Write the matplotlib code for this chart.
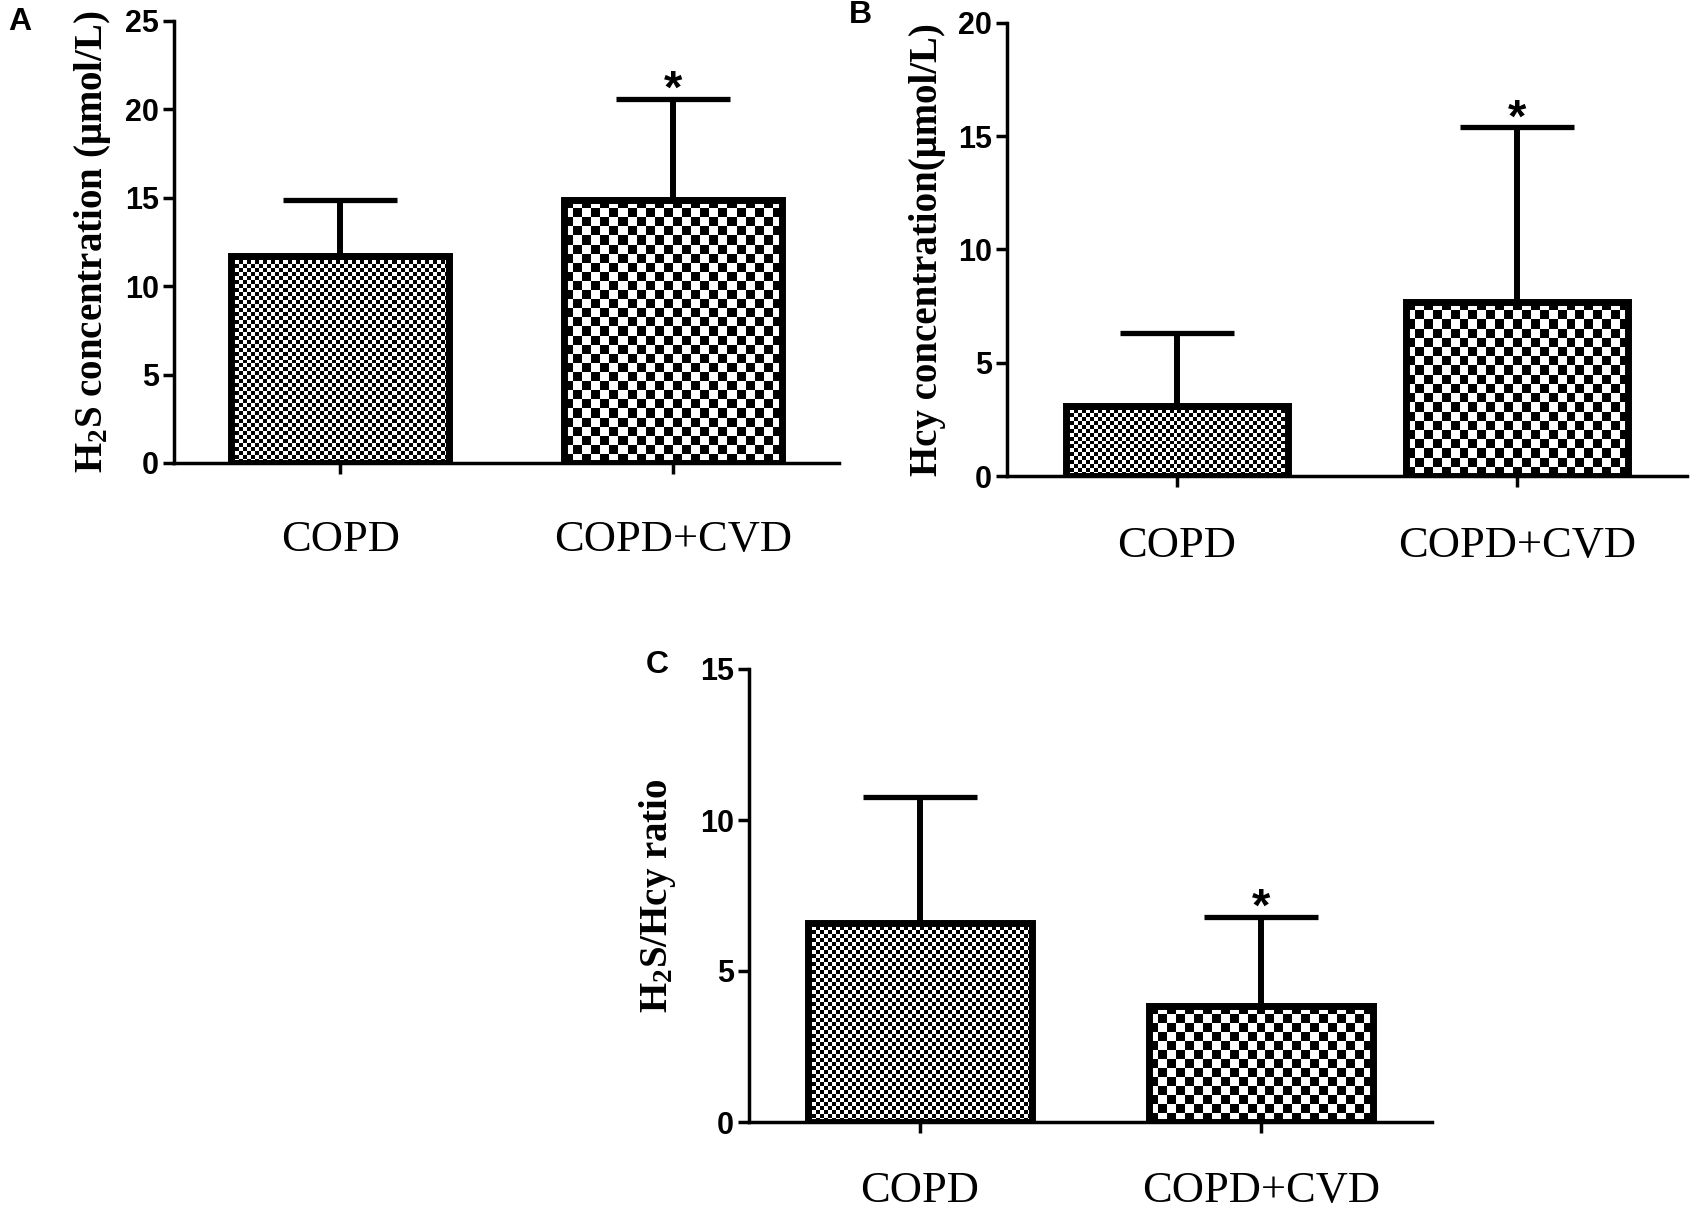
import numpy as np
import matplotlib
matplotlib.use('Agg')
import matplotlib.pyplot as plt

plt.rcParams['mathtext.fontset'] = 'custom'
plt.rcParams['mathtext.rm'] = 'Liberation Serif:bold'
plt.rcParams['mathtext.it'] = 'Liberation Serif:bold:italic'
plt.rcParams['mathtext.bf'] = 'Liberation Serif:bold'

groups = ['COPD', 'COPD+CVD']

h2s_mean = [11.7, 14.9]
h2s_sd = [3.15, 5.7]

hcy_mean = [3.1, 7.7]
hcy_sd = [3.2, 7.7]

ratio_mean = [6.6, 3.85]
ratio_sd = [4.15, 2.95]

serif = ['Liberation Serif', 'DejaVu Serif']
narrow = ['Liberation Sans Narrow', 'Liberation Sans', 'DejaVu Sans']
sans = ['Liberation Sans', 'DejaVu Sans']

fig = plt.figure(figsize=(17, 12.21), dpi=100)


def checker(ax, bar, cell):
    # fill the bar with a checkerboard of about `cell` pixels
    x0, y0 = bar.get_x(), bar.get_y()
    w, h = bar.get_width(), bar.get_height()
    p0 = ax.transData.transform((x0, y0))
    p1 = ax.transData.transform((x0 + w, y0 + h))
    nc = max(1, int(round(abs(p1[0] - p0[0]) / cell)))
    nr = max(1, int(round(abs(p1[1] - p0[1]) / cell)))
    arr = (np.add.outer(np.arange(nr), np.arange(nc)) % 2).astype(float)
    im = ax.imshow(arr, cmap='gray', vmin=0, vmax=1, extent=[x0, x0 + w, y0, y0 + h],
                   origin='lower', interpolation='nearest', aspect='auto', zorder=1)
    im.set_clip_path(bar)


def panel(rect, mean, sd, ymax, ystep, ylabel, lab_x, xpad, star_up):
    ax = fig.add_axes(rect)
    x = np.arange(len(groups))
    ax.set_xlim(-0.5, 1.5)
    ax.set_ylim(0, ymax)
    bars = ax.bar(x, mean, width=0.655, facecolor='none', edgecolor='black',
                  linewidth=5, zorder=3)
    for b, cell in zip(bars, [4, 9]):
        checker(ax, b, cell)
    ax.set_xlim(-0.5, 1.5)
    ax.set_ylim(0, ymax)
    ax.errorbar(x, mean, yerr=[np.zeros(len(sd)), sd], fmt='none', ecolor='black',
                elinewidth=4.3, capsize=41, capthick=3.8, zorder=2)
    top = np.array(mean) + np.array(sd)
    for xi, ti, up in zip(x, top, star_up):
        if up:
            ax.annotate('*', xy=(xi, ti), xytext=(0, -3), textcoords='offset points',
                        ha='center', va='baseline', fontsize=34, fontweight='bold',
                        family=sans)
    for s in ['top', 'right']:
        ax.spines[s].set_visible(False)
    for s in ['left', 'bottom']:
        ax.spines[s].set_linewidth(2.5)
    ax.set_yticks(np.arange(0, ymax + 0.1, ystep))
    ax.set_xticks(x, groups)
    ax.tick_params(width=2.5, length=8)
    ax.tick_params(axis='y', pad=3)
    ax.tick_params(axis='x', pad=xpad)
    for t in ax.get_yticklabels():
        t.set_family(narrow)
        t.set_fontweight('bold')
        t.set_fontsize(22)
    for t in ax.get_xticklabels():
        t.set_family(serif)
        t.set_fontsize(32)
    ax.set_ylabel(ylabel, family=serif, fontweight='bold', fontsize=28)
    ax.yaxis.set_label_coords(lab_x, 0.5)
    return ax


panel([174 / 1700, 1 - 463 / 1221, 665 / 1700, 442 / 1221], h2s_mean, h2s_sd, 25, 5,
      r'H$_2$S concentration (μmol/L)', -0.092, 33, [False, True])
panel([1007 / 1700, 1 - 476 / 1221, 680 / 1700, 453 / 1221], hcy_mean, hcy_sd, 20, 5,
      'Hcy concentration(μmol/L)', -0.090, 28, [False, True])
panel([749 / 1700, 1 - 1122 / 1221, 683 / 1700, 453 / 1221], ratio_mean, ratio_sd, 15, 5,
      r'H$_2$S/Hcy ratio', -0.104, 27, [False, True])

for lab, px, py in [('A', 20, 22), ('B', 860, 15), ('C', 657, 665)]:
    fig.text(px / 1700, 1 - py / 1221, lab, ha='center', va='center',
             fontsize=23, fontweight='bold', family=sans)

fig.savefig('out.png', dpi=100)
